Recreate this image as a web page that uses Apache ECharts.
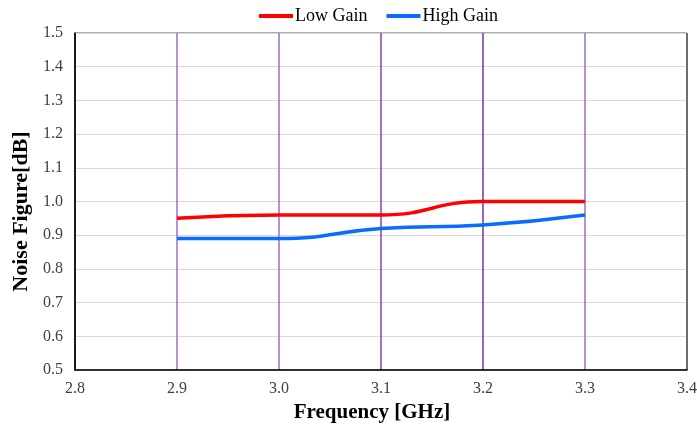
<!DOCTYPE html>
<html><head><meta charset="utf-8">
<script src="https://cdn.jsdelivr.net/npm/echarts@6/dist/echarts.min.js"></script>
<style>html,body{margin:0;padding:0;background:#fff}#c{width:697px;height:427px}</style>
</head><body><div id="c"></div>
<script>
const freqs = [2.9, 3.0, 3.1, 3.2, 3.3];
const lowGain = [0.95, 0.96, 0.96, 1.0, 1.0];
const highGain = [0.89, 0.89, 0.92, 0.93, 0.96];
const seriesNames = ['Low Gain', 'High Gain'];
const xTitle = 'Frequency [GHz]';
const yTitle = 'Noise Figure[dB]';

const chart = echarts.init(document.getElementById('c'));
const font = '"Liberation Serif", "Times New Roman", serif';
chart.setOption({
  animation: false,
  textStyle: { fontFamily: font },
  legend: {
    top: 2, left: 254, itemWidth: 34, itemHeight: 4, itemGap: 19,
    icon: 'rect',
    textStyle: { fontFamily: font, fontSize: 18, color: '#000', padding: [0,0,0,-3] },
    data: seriesNames
  },
  grid: { left: 75, right: 10, top: 33, bottom: 57, outerBoundsMode: 'none', containLabel: false,
    show: true, borderColor: '#595959', borderWidth: 1 },
  xAxis: {
    type: 'value', min: 2.8, max: 3.4, interval: 0.1,
    name: xTitle, nameLocation: 'middle', nameGap: 32,
    nameTextStyle: { fontFamily: font, fontSize: 21, fontWeight: 'bold', color: '#000', padding: [0, 18, 0, 0] },
    axisLine: { lineStyle: { color: '#000', width: 1.5 } },
    axisTick: { show: false },
    axisLabel: { fontFamily: font, fontSize: 16, color: '#404040', margin: 11, formatter: v => v.toFixed(1) },
    splitLine: { show: true, lineStyle: { width: 1.5, color: ['#595959', '#9b6fc6', '#9b6fc6', '#7a48b0', '#6a3aa8', '#9b6fc6', '#595959'] } }
  },
  yAxis: {
    type: 'value', min: 0.5, max: 1.5, interval: 0.1,
    name: yTitle, nameLocation: 'middle', nameGap: 43,
    nameTextStyle: { fontFamily: font, fontSize: 22, fontWeight: 'bold', color: '#000', padding: [0, 20, 0, 0] },
    axisLine: { show: true, lineStyle: { color: '#000', width: 1.5 } },
    axisTick: { show: false },
    axisLabel: { fontFamily: font, fontSize: 16, color: '#404040', margin: 12, formatter: v => v.toFixed(1) },
    splitLine: { show: true, lineStyle: { color: '#d9d9d9', width: 1 } }
  },
  series: [
    { name: seriesNames[0], type: 'line', smooth: 0.5, symbol: 'none',
      lineStyle: { color: '#ff0000', width: 3.5 }, itemStyle: { color: '#ff0000' },
      data: freqs.map((f, i) => [f, lowGain[i]]) },
    { name: seriesNames[1], type: 'line', smooth: 0.5, symbol: 'none',
      lineStyle: { color: '#0a6cff', width: 3.5 }, itemStyle: { color: '#0a6cff' },
      data: freqs.map((f, i) => [f, highGain[i]]) }
  ]
});
</script></body></html>
